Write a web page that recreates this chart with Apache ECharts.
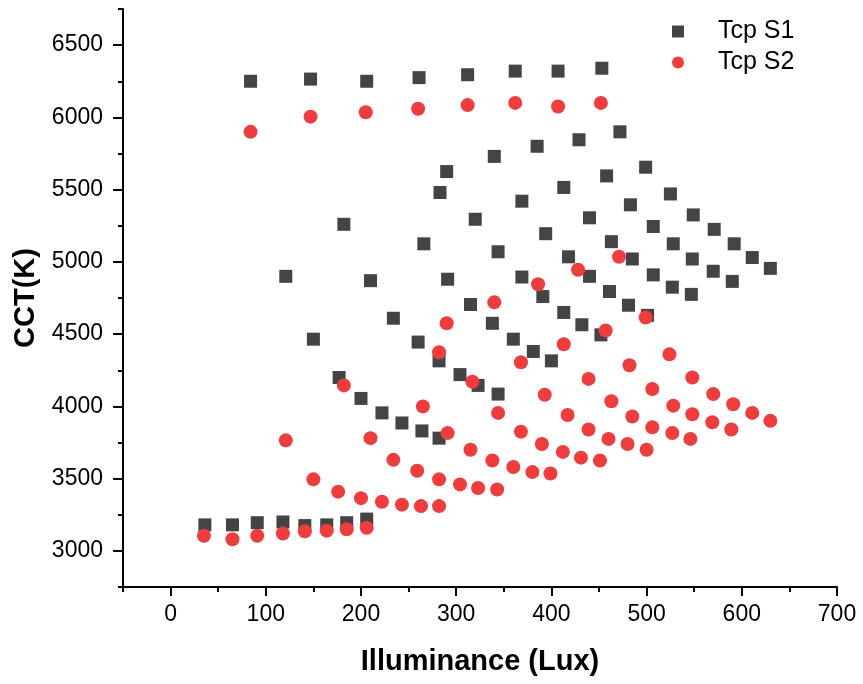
<!DOCTYPE html>
<html>
<head>
<meta charset="utf-8">
<script src="https://cdn.jsdelivr.net/npm/echarts@6/dist/echarts.min.js"></script>
<style>
  html, body { margin: 0; padding: 0; background: #ffffff; }
  #chart { width: 863px; height: 684px; }
</style>
</head>
<body>
<div id="chart"></div>
<script>
// Tcp S1: illuminance (lux) and correlated colour temperature (K)
const s1Lux = [
  84, 147, 206, 261, 312, 362, 407, 453,
  36, 65, 91, 118, 141, 164, 185, 206,
  121, 150, 177, 200, 222, 243, 264, 282,
  182, 210, 234, 260, 282, 304, 323, 344,
  266, 291, 315, 338, 360, 381, 400,
  283, 290, 320, 344, 369, 391, 413, 432, 452,
  340, 369, 394, 418, 440, 461, 481, 501,
  385, 413, 440, 463, 485, 507, 527, 547,
  429, 458, 483, 507, 528, 548, 570, 590,
  472, 499, 525, 549, 571, 592, 611, 630
];
const s1Cct = [
  6250, 6265, 6250, 6275, 6295, 6320, 6320, 6340,
  3180, 3180, 3195, 3200, 3175, 3180, 3195, 3220,
  4900, 4465, 4200, 4055, 3955, 3885, 3830, 3780,
  5260, 4870, 4610, 4445, 4315, 4220, 4145, 4085,
  5125, 4880, 4705, 4575, 4465, 4380, 4315,
  5480, 5625, 5295, 5070, 4895, 4760, 4650, 4565, 4495,
  5730, 5420, 5195, 5035, 4900, 4795, 4700, 4630,
  5800, 5515, 5305, 5140, 5020, 4910, 4825, 4775,
  5845, 5595, 5395, 5245, 5125, 5020, 4935, 4865,
  5900, 5655, 5470, 5325, 5225, 5125, 5030, 4955
];

// Tcp S2
const s2Lux = [
  84, 147, 205, 260, 312, 362, 407, 452,
  35, 65, 91, 118, 141, 164, 185, 206,
  121, 150, 176, 200, 222, 243, 263, 282,
  182, 210, 234, 259, 282, 304, 323, 343,
  265, 291, 315, 338, 360, 380, 399,
  282, 290, 317, 344, 368, 390, 412, 431, 451,
  340, 368, 393, 417, 439, 460, 480, 500,
  386, 413, 439, 463, 485, 506, 527, 546,
  428, 457, 482, 506, 528, 548, 569, 589,
  471, 499, 524, 548, 570, 591, 611, 630
];
const s2Cct = [
  5900, 6005, 6035, 6060, 6085, 6100, 6075, 6100,
  3105, 3080, 3105, 3120, 3135, 3140, 3150, 3160,
  3765, 3495, 3410, 3365, 3340, 3320, 3310, 3310,
  4145, 3780, 3630, 3555, 3495, 3460, 3435, 3425,
  4000, 3815, 3700, 3625, 3580, 3545, 3535,
  4375, 4575, 4170, 3955, 3825, 3740, 3685, 3645, 3625,
  4720, 4305, 4080, 3940, 3840, 3775, 3740, 3700,
  4845, 4430, 4190, 4035, 3930, 3855, 3815, 3775,
  4945, 4525, 4285, 4120, 4005, 3945, 3890, 3840,
  5035, 4615, 4360, 4200, 4085, 4015, 3955, 3900
];

const seriesNames = ['Tcp S1', 'Tcp S2'];

// Tick positions
const xMajorTicks = [0, 100, 200, 300, 400, 500, 600, 700];
const xMinorTicks = [-50, 50, 150, 250, 350, 450, 550, 650];
const yMajorTicks = [3000, 3500, 4000, 4500, 5000, 5500, 6000, 6500];
const yMinorTicks = [2750, 3250, 3750, 4250, 4750, 5250, 5750, 6250, 6750];

const pairs = (xs, ys) => xs.map((x, i) => [x, ys[i]]);
const plain = (v) => String(v);

const FONT = '"Liberation Sans", Arial, Helvetica, sans-serif';
const black = '#000000';

const chart = echarts.init(document.getElementById('chart'), null, { renderer: 'canvas' });

const baseX = {
  type: 'value', min: -50, max: 700, interval: 50, position: 'bottom',
  splitLine: { show: false }
};
const baseY = {
  type: 'value', min: 2750, max: 6750, interval: 250, position: 'left',
  splitLine: { show: false }
};

chart.setOption({
  backgroundColor: '#ffffff',
  animation: false,
  textStyle: { fontFamily: FONT },
  grid: { left: 123, right: 26, top: 9, bottom: 97, containLabel: false, outerBoundsMode: 'none' },
  legend: {
    orient: 'vertical',
    left: 672,
    top: 19,
    padding: 0,
    itemWidth: 12,
    itemHeight: 12,
    itemGap: 6,
    textStyle: { fontFamily: FONT, fontSize: 25, color: black, padding: [0, 0, 0, 29] },
    data: seriesNames
  },
  xAxis: [
    Object.assign({}, baseX, {
      name: 'Illuminance (Lux)',
      nameLocation: 'middle',
      nameGap: 60,
      nameTextStyle: { fontFamily: FONT, fontSize: 29, fontWeight: 'bold', color: black },
      axisLine: { show: true, onZero: false, lineStyle: { color: black, width: 2 } },
      axisTick: { show: true, customValues: xMajorTicks, length: 9, lineStyle: { color: black, width: 2 } },
      axisLabel: { show: true, customValues: xMajorTicks, formatter: plain, fontFamily: FONT, fontSize: 23, color: black, margin: 16 }
    }),
    Object.assign({}, baseX, {
      axisLine: { show: false, onZero: false },
      axisTick: { show: true, customValues: xMinorTicks, length: 5, lineStyle: { color: black, width: 2 } },
      axisLabel: { show: false }
    })
  ],
  yAxis: [
    Object.assign({}, baseY, {
      name: 'CCT(K)',
      nameLocation: 'middle',
      nameRotate: 90,
      nameGap: 77,
      nameTextStyle: { fontFamily: FONT, fontSize: 29, fontWeight: 'bold', color: black },
      axisLine: { show: true, onZero: false, lineStyle: { color: black, width: 2 } },
      axisTick: { show: true, customValues: yMajorTicks, length: 10, lineStyle: { color: black, width: 2 } },
      axisLabel: { show: true, customValues: yMajorTicks, formatter: plain, fontFamily: FONT, fontSize: 23, color: black, margin: 20 }
    }),
    Object.assign({}, baseY, {
      axisLine: { show: false, onZero: false },
      axisTick: { show: true, customValues: yMinorTicks, length: 5, lineStyle: { color: black, width: 2 } },
      axisLabel: { show: false }
    })
  ],
  series: [
    {
      name: seriesNames[0],
      type: 'scatter',
      xAxisIndex: 0,
      yAxisIndex: 0,
      symbol: 'rect',
      symbolSize: 13,
      itemStyle: { color: '#444444', opacity: 1 },
      data: pairs(s1Lux, s1Cct)
    },
    {
      name: seriesNames[1],
      type: 'scatter',
      xAxisIndex: 0,
      yAxisIndex: 0,
      symbol: 'circle',
      symbolSize: 14,
      itemStyle: { color: '#f03c3c', opacity: 1 },
      data: pairs(s2Lux, s2Cct)
    }
  ]
});
</script>
</body>
</html>
